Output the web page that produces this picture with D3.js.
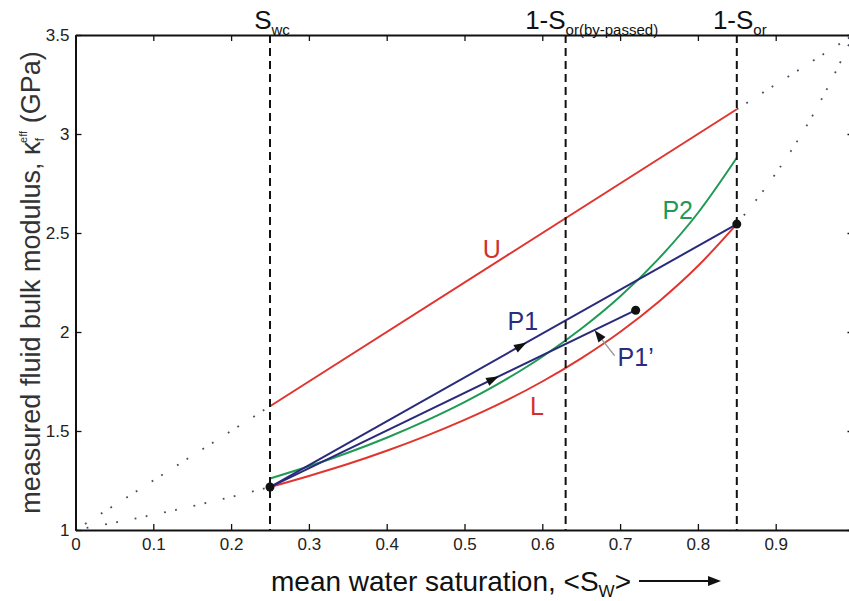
<!DOCTYPE html>
<html>
<head>
<meta charset="utf-8">
<script src="https://cdn.jsdelivr.net/npm/d3@7"></script>
<style>
  html, body { margin: 0; padding: 0; background: #fff; }
  svg { display: block; }
  text { font-family: "Liberation Sans Narrow", "Liberation Sans", Arial, sans-serif; }
</style>
</head>
<body>
<svg id="chart" width="849" height="601"></svg>
<script>
// ---------------- data ----------------
const xTicks = [0, 0.1, 0.2, 0.3, 0.4, 0.5, 0.6, 0.7, 0.8, 0.9, 1];
const xTickLabels = ["0", "0.1", "0.2", "0.3", "0.4", "0.5", "0.6", "0.7", "0.8", "0.9", ""];
const yTicks = [1, 1.5, 2, 2.5, 3, 3.5];
const yTickLabels = ["1", "1.5", "2", "2.5", "3", "3.5"];

// lower bound L (full range, dotted outside [Swc, 1-Sor])
const lSw = [0, 0.05, 0.1, 0.15, 0.2, 0.25, 0.3, 0.35, 0.4, 0.45, 0.5, 0.55, 0.6, 0.65, 0.7, 0.75, 0.8, 0.85, 0.9, 0.95, 1.0];
const lK  = [1.000, 1.037, 1.077, 1.120, 1.167, 1.217, 1.273, 1.333, 1.400, 1.474, 1.556, 1.647, 1.750, 1.867, 2.000, 2.154, 2.333, 2.545, 2.800, 3.111, 3.500];

// upper bound U (straight)
const uSw = [0, 0.25, 0.85, 1.0];
const uK  = [1.000, 1.625, 3.125, 3.500];

// path P2 (green)
const p2Sw = [0.25, 0.3, 0.35, 0.4, 0.45, 0.5, 0.55, 0.6, 0.65, 0.7, 0.75, 0.8, 0.85];
const p2K  = [1.260, 1.322, 1.390, 1.466, 1.551, 1.646, 1.753, 1.875, 2.016, 2.179, 2.372, 2.601, 2.880];

// path P1 and P1' (navy)
const p1Sw = [0.25, 0.85];
const p1K  = [1.217, 2.545];
const p1bSw = [0.25, 0.72];
const p1bK  = [1.217, 2.110];

// end points
const dotSw = [0.25, 0.85, 0.72];
const dotK  = [1.217, 2.545, 2.110];

// vertical reference saturations
const vSw = [0.25, 0.63, 0.85];

const swc = 0.25, sorEnd = 0.85;

// ---------------- layout ----------------
const svg = d3.select("#chart");
const x = d3.scaleLinear().domain([0, 1]).range([75.5, 853.5]);
const y = d3.scaleLinear().domain([1, 3.5]).range([530, 35]);

const RED = "#e0352f", GREEN = "#1f9a55", NAVY = "#2a2a7c", DOT = "#4a4a60";

const line = d3.line().x(d => x(d[0])).y(d => y(d[1]));
const curve = d3.line().curve(d3.curveMonotoneX).x(d => x(d[0])).y(d => y(d[1]));
const zip = (a, b) => a.map((v, i) => [v, b[i]]);

// dotted extensions
const lAll = zip(lSw, lK);
const uAll = zip(uSw, uK);
const dottedStyle = g => g.attr("fill", "none").attr("stroke", DOT).attr("stroke-width", 1.8)
  .attr("stroke-dasharray", "1.8,9.5,1.8,17").attr("stroke-linecap", "butt");

svg.append("path").datum(lAll.filter(d => d[0] <= swc)).attr("d", curve).call(dottedStyle);
svg.append("path").datum(lAll.filter(d => d[0] >= sorEnd)).attr("d", curve).call(dottedStyle);
svg.append("path").datum(uAll.filter(d => d[0] <= swc)).attr("d", line).call(dottedStyle);
svg.append("path").datum(uAll.filter(d => d[0] >= sorEnd)).attr("d", line).call(dottedStyle);

// solid bounds
svg.append("path").datum(uAll.filter(d => d[0] >= swc && d[0] <= sorEnd)).attr("d", line)
  .attr("fill", "none").attr("stroke", RED).attr("stroke-width", 2);
svg.append("path").datum(lAll.filter(d => d[0] >= swc && d[0] <= sorEnd)).attr("d", curve)
  .attr("fill", "none").attr("stroke", RED).attr("stroke-width", 2);

// P2
svg.append("path").datum(zip(p2Sw, p2K)).attr("d", curve)
  .attr("fill", "none").attr("stroke", GREEN).attr("stroke-width", 2);

// P1, P1'
svg.append("path").datum(zip(p1Sw, p1K)).attr("d", line).attr("fill", "none").attr("stroke", NAVY).attr("stroke-width", 2);
svg.append("path").datum(zip(p1bSw, p1bK)).attr("d", line).attr("fill", "none").attr("stroke", NAVY).attr("stroke-width", 2);

// arrowheads along P1 and P1'
function arrowAt(sw0, k0, sw1, k1, swAt, size) {
  const t = (swAt - sw0) / (sw1 - sw0);
  const px = x(sw0 + t * (sw1 - sw0)), py = y(k0 + t * (k1 - k0));
  const ang = Math.atan2(y(k1) - y(k0), x(sw1) - x(sw0)) * 180 / Math.PI;
  svg.append("path").attr("d", `M${size},0 L${-size * 0.6},${-size * 0.55} L${-size * 0.6},${size * 0.55} Z`)
    .attr("transform", `translate(${px},${py}) rotate(${ang})`).attr("fill", "#111");
}
arrowAt(p1Sw[0], p1K[0], p1Sw[1], p1K[1], 0.571, 8);
arrowAt(p1bSw[0], p1bK[0], p1bSw[1], p1bK[1], 0.535, 8);

// leader for P1' label
const leadFrom = [0.693, 1.880], leadTo = [0.672, 1.985];
svg.append("line").attr("x1", x(leadFrom[0])).attr("y1", y(leadFrom[1]))
  .attr("x2", x(leadTo[0])).attr("y2", y(leadTo[1])).attr("stroke", "#999").attr("stroke-width", 1.3);
{
  const ang = Math.atan2(y(leadTo[1]) - y(leadFrom[1]), x(leadTo[0]) - x(leadFrom[0])) * 180 / Math.PI;
  svg.append("path").attr("d", "M6,0 L-6,-4.5 L-6,4.5 Z")
    .attr("transform", `translate(${x(leadTo[0])},${y(leadTo[1])}) rotate(${ang})`).attr("fill", "#111");
}

// vertical dashed lines
svg.selectAll("line.v").data(vSw).enter().append("line").attr("class", "v")
  .attr("x1", d => x(d)).attr("x2", d => x(d)).attr("y1", y(3.5)).attr("y2", y(1))
  .attr("stroke", "#111").attr("stroke-width", 2).attr("stroke-dasharray", "8,5");

// dots
svg.selectAll("circle.pt").data(zip(dotSw, dotK)).enter().append("circle").attr("class", "pt")
  .attr("cx", d => x(d[0])).attr("cy", d => y(d[1])).attr("r", 4.5).attr("fill", "#111");

// ---------------- axes ----------------
const fmtX = (d, i) => xTickLabels[i];
const fmtY = (d, i) => yTickLabels[i];
const axB = svg.append("g").attr("transform", `translate(0,${y(1)})`)
  .call(d3.axisBottom(x).tickValues(xTicks).tickFormat(fmtX).tickSizeInner(-6).tickSizeOuter(0).tickPadding(8));
const axT = svg.append("g").attr("transform", `translate(0,${y(3.5)})`)
  .call(d3.axisTop(x).tickValues(xTicks).tickFormat("").tickSizeInner(-6).tickSizeOuter(0));
const axL = svg.append("g").attr("transform", `translate(${x(0)},0)`)
  .call(d3.axisLeft(y).tickValues(yTicks).tickFormat(fmtY).tickSizeInner(-6).tickSizeOuter(0).tickPadding(6));
const axR = svg.append("g").attr("transform", `translate(${x(1)},0)`)
  .call(d3.axisRight(y).tickValues(yTicks).tickFormat("").tickSizeInner(-6).tickSizeOuter(0));
[axB, axT, axL, axR].forEach(g => {
  g.select(".domain").attr("stroke", "#111").attr("stroke-width", 2);
  g.selectAll(".tick line").attr("stroke", "#111").attr("stroke-width", 1.3);
  g.selectAll(".tick text").attr("fill", "#222").style("font-size", "17px")
    .style("font-family", '"Liberation Sans Narrow", "Liberation Sans", Arial, sans-serif');
});

// ---------------- labels ----------------
const lab = (tx, ty, str, color, size) => svg.append("text").attr("x", tx).attr("y", ty)
  .attr("fill", color).style("font-size", size + "px").attr("text-anchor", "middle").text(str);

lab(x(0.535), y(2.375), "U", "#d32f2a", 25);
lab(x(0.575), y(2.01), "P1", "#2b2b82", 25);
lab(x(0.72), y(1.828), "P1’", "#2b2b82", 25);
lab(x(0.593), y(1.58), "L", "#d32f2a", 25);
lab(x(0.774), y(2.57), "P2", "#1f9a55", 25);

// top labels
function subLabel(cx, baseY, parts) {
  const t = svg.append("text").attr("x", cx).attr("y", baseY).attr("text-anchor", "middle")
    .attr("fill", "#111").style("font-size", "26px");
  parts.forEach(p => {
    const s = t.append("tspan").text(p.t);
    if (p.sub) s.style("font-size", "15px").attr("dy", p.dy);
    else if (p.dy) s.attr("dy", p.dy);
  });
  return t;
}
subLabel(x(0.25) + 2, 29, [{t: "S"}, {t: "wc", sub: true, dy: 6}]);
subLabel(x(0.63) + 26, 29, [{t: "1-S"}, {t: "or(by-passed)", sub: true, dy: 6}]);
subLabel(x(0.85) + 3, 29, [{t: "1-S"}, {t: "or", sub: true, dy: 6}]);

// y axis title
{
  const t = svg.append("text").attr("transform", `translate(40,${y(2.25)}) rotate(-90)`)
    .attr("text-anchor", "middle").attr("fill", "#333").style("font-size", "27px")
    .style("font-family", '"Liberation Sans", Arial, sans-serif');
  t.append("tspan").text("measured fluid bulk modulus, κ");
  t.append("tspan").text("f").style("font-size", "13px").attr("dy", 4);
  t.append("tspan").text("eff").style("font-size", "11px").attr("dx", -5).attr("dy", -17);
  t.append("tspan").text(" (GPa)").attr("dy", 13);
}

// x axis title
{
  const t = svg.append("text").attr("x", 451).attr("y", 591)
    .attr("text-anchor", "middle").attr("fill", "#111").style("font-size", "28px");
  t.append("tspan").text("mean water saturation, <S");
  t.append("tspan").text("W").style("font-size", "17px").attr("dy", 6);
  t.append("tspan").text(">").attr("dy", -6);
  const bb = t.node().getBBox();
  const ax0 = bb.x + bb.width + 8, ax1 = 721, ay = 581;
  svg.append("line").attr("x1", ax0).attr("x2", ax1 - 8).attr("y1", ay).attr("y2", ay)
    .attr("stroke", "#111").attr("stroke-width", 2);
  svg.append("path").attr("d", `M${ax1},${ay} L${ax1 - 13},${ay - 5} L${ax1 - 13},${ay + 5} Z`).attr("fill", "#111");
}
</script>
</body>
</html>
